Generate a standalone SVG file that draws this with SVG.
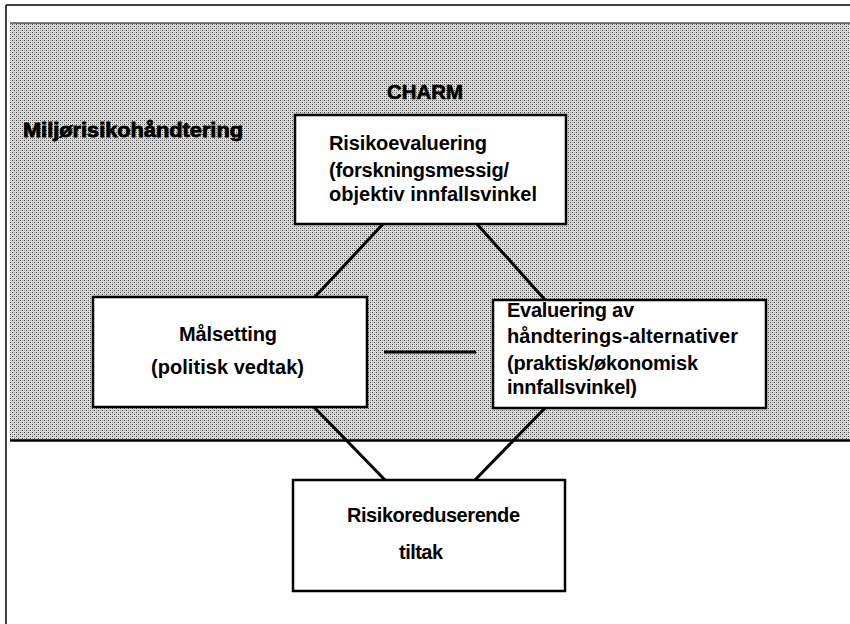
<svg xmlns="http://www.w3.org/2000/svg" width="850" height="624" viewBox="0 0 850 624">
<defs>
<pattern id="dots" width="4" height="4" patternUnits="userSpaceOnUse">
<rect width="4" height="4" fill="#dcdcdc"/>
<rect x="0" y="0" width="1" height="1" fill="#444"/>
<rect x="2" y="2" width="1" height="1" fill="#444"/>
<rect x="2" y="0" width="1" height="1" fill="#999"/>
<rect x="0" y="2" width="1" height="1" fill="#999"/>
</pattern>
<style>
.box{fill:#fff;stroke:#000;stroke-width:2.5}
.t{font-family:"Liberation Sans",Arial,sans-serif;font-weight:bold;font-size:20px;fill:#000}
.conn{stroke:#000;stroke-width:3;fill:none}
.frame{stroke:#000;fill:none}
</style>
</defs>
<rect width="850" height="624" fill="#fff"/>
<g id="frame">
<line class="frame" x1="6" y1="5" x2="850" y2="5" stroke-width="1.5"/>
<line class="frame" x1="6" y1="5" x2="6" y2="624" stroke-width="1.5"/>
<rect x="10" y="23" width="840" height="417" fill="url(#dots)"/>
<line class="frame" x1="10" y1="23" x2="850" y2="23" stroke-width="1"/>
<line class="frame" x1="10" y1="440.5" x2="850" y2="440.5" stroke-width="2.5"/>
</g>
<text id="title-region" class="t" x="23" y="137" font-size="24" stroke="#000" stroke-width="0.8" textLength="220" lengthAdjust="spacingAndGlyphs">Miljørisikohåndtering</text>
<text id="title-charm" class="t" x="387" y="99" font-size="21" stroke="#000" stroke-width="0.6" textLength="76" lengthAdjust="spacingAndGlyphs">CHARM</text>
<g id="connectors">
<line class="conn" x1="383" y1="224" x2="313" y2="299"/>
<line class="conn" x1="477" y1="224" x2="546" y2="301"/>
<line class="conn" x1="313" y1="406" x2="386" y2="481"/>
<line class="conn" x1="546" y1="407" x2="474" y2="481"/>
<line class="conn" x1="384" y1="352" x2="476" y2="352" stroke-width="2"/>
</g>
<g id="risikoevaluering">
<rect class="box" x="295" y="115" width="271" height="109"/>
<text class="t" x="329" y="150" textLength="158" lengthAdjust="spacing">Risikoevaluering</text>
<text class="t" x="329" y="177" textLength="180" lengthAdjust="spacing">(forskningsmessig/</text>
<text class="t" x="329" y="201" textLength="208" lengthAdjust="spacing">objektiv innfallsvinkel</text>
</g>
<g id="malsetting">
<rect class="box" x="93" y="297" width="274" height="110"/>
<text class="t" x="179" y="341" textLength="98" lengthAdjust="spacing">Målsetting</text>
<text class="t" x="151" y="374" textLength="153" lengthAdjust="spacing">(politisk vedtak)</text>
</g>
<g id="evaluering">
<rect class="box" x="493" y="300" width="273" height="108"/>
<text class="t" x="507" y="317" textLength="127" lengthAdjust="spacing">Evaluering av</text>
<text class="t" x="507" y="343" textLength="231" lengthAdjust="spacing">håndterings-alternativer</text>
<text class="t" x="507" y="370" textLength="191" lengthAdjust="spacing">(praktisk/økonomisk</text>
<text class="t" x="507" y="394" textLength="130" lengthAdjust="spacing">innfallsvinkel)</text>
</g>
<g id="risikoreduserende">
<rect class="box" x="293" y="480" width="272" height="111"/>
<text class="t" x="347" y="522" textLength="173" lengthAdjust="spacing">Risikoreduserende</text>
<text class="t" x="399" y="559" textLength="44" lengthAdjust="spacing">tiltak</text>
</g>
</svg>
